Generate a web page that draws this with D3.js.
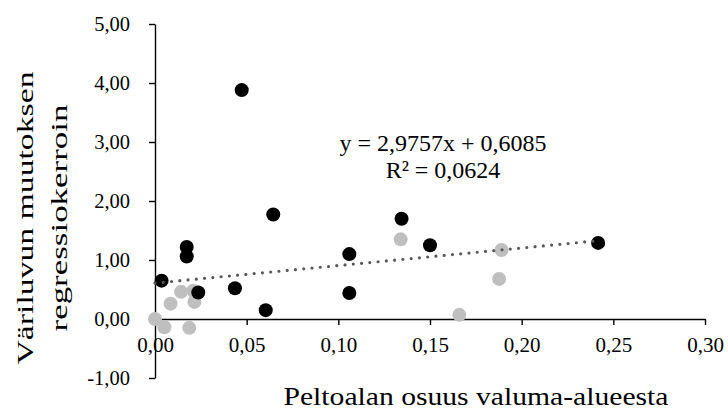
<!DOCTYPE html>
<html><head><meta charset="utf-8">
<script src="https://cdn.jsdelivr.net/npm/d3@7"></script>
<style>
body{margin:0;background:#fff}
svg{display:block}
text{font-family:"Liberation Serif","Times New Roman",serif;fill:#000}
</style>
</head><body>
<svg id="c" width="728" height="415"></svg>
<script>
// ---- data ----
const grayX = [0.0000, 0.0051, 0.0085, 0.0142, 0.0215, 0.0187, 0.0209, 0.1340, 0.1660, 0.1890, 0.1877];
const grayY = [0.00, -0.14, 0.26, 0.46, 0.29, -0.15, 0.48, 1.35, 0.07, 1.17, 0.68];
const blackX = [0.0036, 0.0173, 0.0173, 0.0236, 0.0436, 0.0473, 0.0645, 0.0604, 0.1060, 0.1060, 0.1345, 0.1500, 0.2417];
const blackY = [0.65, 1.22, 1.06, 0.45, 0.52, 3.88, 1.77, 0.15, 1.10, 0.44, 1.70, 1.25, 1.29];
const xTicks = [0, 0.05, 0.10, 0.15, 0.20, 0.25, 0.30];
const yTicks = [-1, 0, 1, 2, 3, 4, 5];
const trendSlope = 2.9757;
const trendIntercept = 0.6085;
const equationLines = ["y = 2,9757x + 0,6085", "R² = 0,0624"];
const xTitle = "Peltoalan osuus valuma-alueesta";
const yTitleLines = ["Väriluvun muutoksen", "regressiokerroin"];

// ---- drawing ----
const svg = d3.select("#c");
const x = d3.scaleLinear().domain([0, 0.30]).range([155, 705]);
const y = d3.scaleLinear().domain([-1, 5]).range([378, 24]);
const fmt = v => v.toFixed(2).replace(".", ",");

const yAxis = svg.append("g").attr("transform", `translate(${x(0)},0)`)
  .call(d3.axisLeft(y).tickValues(yTicks).tickFormat(fmt).tickSize(6).tickSizeOuter(0).tickPadding(19));
const xAxis = svg.append("g").attr("transform", `translate(0,${y(0)})`)
  .call(d3.axisBottom(x).tickValues(xTicks).tickFormat(fmt).tickSize(6).tickSizeOuter(0).tickPadding(12));
[xAxis, yAxis].forEach(a => {
  a.select(".domain").attr("stroke", "#000").attr("stroke-width", 1.4);
  a.selectAll(".tick line").attr("stroke", "#000").attr("stroke-width", 1.4);
  a.selectAll(".tick text").attr("fill", "#000").style("font-family", '"Liberation Serif",serif');
});
yAxis.selectAll(".tick text").style("font-size", "20.5px");
xAxis.selectAll(".tick text").style("font-size", "21px");

const grayPts = grayX.map((v, i) => [v, grayY[i]]);
const blackPts = blackX.map((v, i) => [v, blackY[i]]);

svg.append("g").selectAll("circle").data(grayPts).join("circle")
  .attr("cx", d => x(d[0])).attr("cy", d => y(d[1])).attr("r", 7).attr("fill", "#bfbfbf");
svg.append("g").selectAll("circle").data(blackPts).join("circle")
  .attr("cx", d => x(d[0])).attr("cy", d => y(d[1])).attr("r", 7).attr("fill", "#000");

const allX = grayX.concat(blackX);
const tx = d3.extent(allX);
svg.append("line")
  .attr("x1", x(tx[0])).attr("y1", y(trendSlope * tx[0] + trendIntercept))
  .attr("x2", x(tx[1])).attr("y2", y(trendSlope * tx[1] + trendIntercept))
  .attr("stroke", "#595959").attr("stroke-width", 3.2)
  .attr("stroke-linecap", "round").attr("stroke-dasharray", "0 8.3");

svg.append("g").selectAll("text").data(equationLines).join("text")
  .attr("x", 443).attr("y", (d, i) => 151 + i * 27)
  .attr("text-anchor", "middle").style("font-size", "24px").text(d => d);

svg.append("text").attr("x", 476).attr("y", 405).attr("text-anchor", "middle")
  .style("font-size", "25px").attr("textLength", 385).attr("lengthAdjust", "spacingAndGlyphs").text(xTitle);

const yLens = [293, 227];
svg.append("g").selectAll("text").data(yTitleLines).join("text")
  .attr("transform", (d, i) => `translate(${33 + i * 34},218) rotate(-90)`)
  .attr("text-anchor", "middle").style("font-size", "24px")
  .attr("textLength", (d, i) => yLens[i]).attr("lengthAdjust", "spacingAndGlyphs").text(d => d);
</script>
</body></html>
